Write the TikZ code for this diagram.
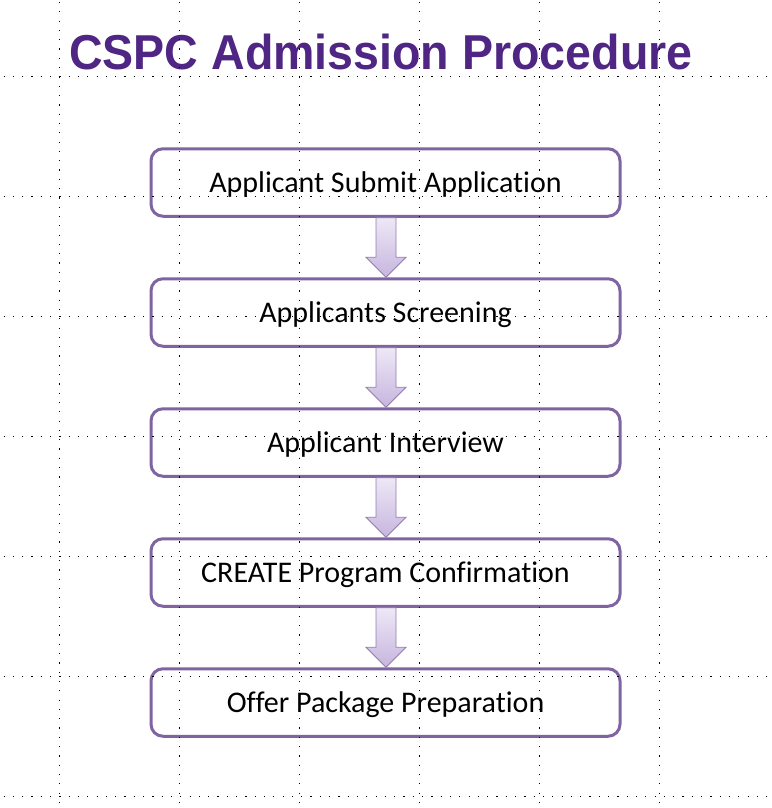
\documentclass[tikz,border=0pt]{standalone}
\usepackage{fontspec}
\setmainfont{Carlito}[Ligatures=NoCommon]
\newfontfamily\titlefont{Liberation Sans}
\usetikzlibrary{calc,backgrounds}
\definecolor{boxpurple}{HTML}{8064A2}
\definecolor{titlepurple}{HTML}{4F2683}
\definecolor{arrowtop}{HTML}{EEE8F6}
\definecolor{arrowbot}{HTML}{C6B5DE}
\begin{document}
\begin{tikzpicture}[x=1pt,y=-1pt,
  stepbox/.style={draw=boxpurple, line width=3pt, fill=white, rounded corners=12pt,
    minimum width=469pt, minimum height=67.5pt, inner sep=0pt, outer sep=1.5pt,
    text height=19pt, text depth=0pt, font=\fontsize{30}{36}\selectfont, text=black},
  flowarrow/.style={draw=boxpurple!85, line width=0.9pt, top color=arrowtop, bottom color=arrowbot, line join=miter},
  gridline/.style={black, line width=1.2pt, dash pattern=on 1.2pt off 8.1pt},
  titletext/.style={anchor=base west, inner sep=0pt, text=titlepurple, font=\titlefont\bfseries\fontsize{49}{58}\selectfont}
]
\useasboundingbox (0,0) rectangle (771,808);
\fill[white] (0,0) rectangle (771,808);

\node[titletext] (title) at (69,70) {\scalebox{0.95}[1]{CSPC Admission Procedure}};

\node[stepbox] (b1) at (385.5,182.5) {Applicant Submit Application};
\node[stepbox] (b2) at (385.5,312.5) {Applicants Screening};
\node[stepbox] (b3) at (385.5,442.5) {Applicant Interview};
\node[stepbox] (b4) at (385.5,572.5) {CREATE Program Confirmation};
\node[stepbox] (b5) at (385.5,702.5) {Offer Package Preparation};

\begin{scope}[on background layer]
  \foreach \b in {b1,b2,b3,b4,b5}{
    \foreach \k in {1,...,6}{
      \fill[black, opacity=0.045, rounded corners={12pt+\k pt}]
        ($(\b.north west)+(2-\k,-2-\k)$) rectangle ($(\b.south east)+(2+\k,-2+\k)$);
    }
  }
\end{scope}

\foreach \a/\c in {b1/b2,b2/b3,b3/b4,b4/b5}{
  \path[flowarrow]
    ($(\a.south)+(-9.5,0)$) -- ($(\a.south)+(10.5,0)$) --
    ($(\c.north)+(10.5,-20)$) -- ($(\c.north)+(20.5,-20)$) --
    ($(\c.north)+(0.5,0)$) -- ($(\c.north)+(-19.5,-20)$) --
    ($(\c.north)+(-9.5,-20)$) -- cycle;
}

\foreach \x in {59.3,179.3,299.3,419.3,539.3,659.3}{
  \draw[gridline] (\x,2) -- (\x,808);
}
\foreach \y in {76.5,196.5,316.5,436.5,556.5,676.5,796.5}{
  \draw[gridline] (3.5,\y) -- (771,\y);
}
\end{tikzpicture}
\end{document}
